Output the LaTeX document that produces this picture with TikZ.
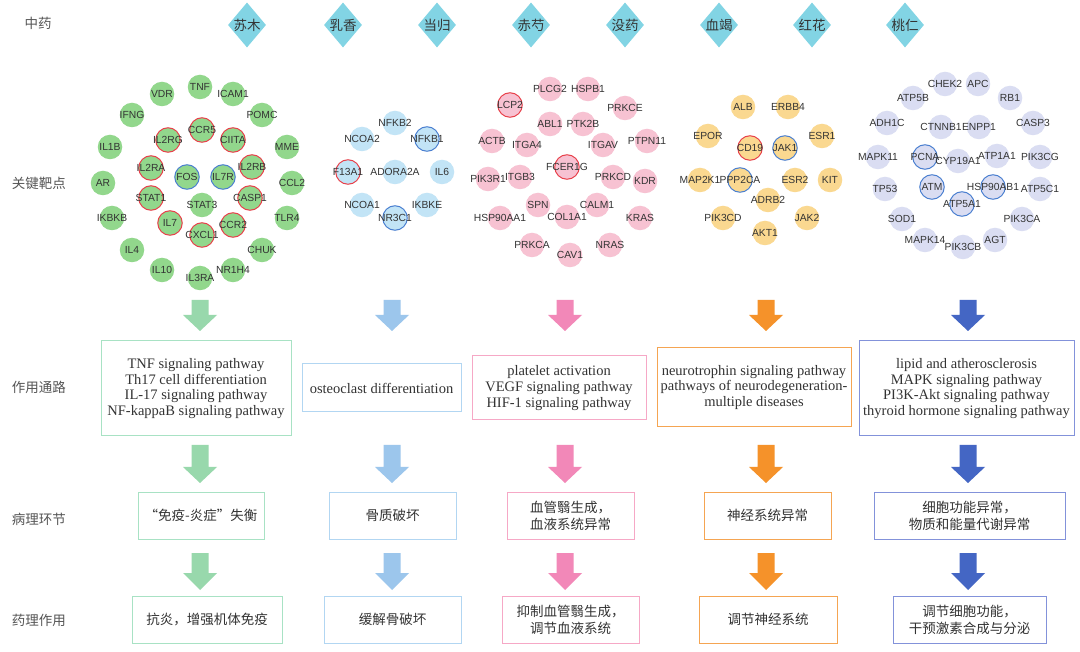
\documentclass[tikz,border=0pt]{standalone}
\usepackage{fontspec}
\setmainfont{Liberation Serif}
\setsansfont{Liberation Sans}
\newfontfamily\cjk{Noto Sans CJK SC}
\usetikzlibrary{shapes.geometric}
\definecolor{txt}{HTML}{333333}
\definecolor{lab}{HTML}{555555}
\definecolor{diacol}{HTML}{82D4E4}
\definecolor{fillA}{HTML}{92D78C}
\definecolor{fillB}{HTML}{C2E4F6}
\definecolor{fillC}{HTML}{F7C2D2}
\definecolor{fillD}{HTML}{FAD890}
\definecolor{fillE}{HTML}{DADDF2}
\definecolor{ringr}{HTML}{E8404A}
\definecolor{ringb}{HTML}{4A7FD0}
\definecolor{arrA}{HTML}{98D8AC}
\definecolor{arrB}{HTML}{9CC6EC}
\definecolor{arrC}{HTML}{F288B8}
\definecolor{arrD}{HTML}{F5922A}
\definecolor{arrE}{HTML}{4466C4}
\definecolor{boxA}{HTML}{A8E2C4}
\definecolor{boxB}{HTML}{B2D6F2}
\definecolor{boxC}{HTML}{F6A8C6}
\definecolor{boxD}{HTML}{F5A552}
\definecolor{boxE}{HTML}{8392DA}
\newcommand{\blockarr}[5]{%
  \fill[#5] (#1-8.5,#2) -- (#1+8.5,#2) -- (#1+8.5,#3) -- (#1+17,#3) -- (#1,#4)
    -- (#1-17,#3) -- (#1-8.5,#3) -- cycle;}
\def\clA{TNF/200/87/none, VDR/162/94/none, ICAM1/233/94/none, IFNG/132/115/none, POMC/262/115/none, CCR5/202/130/ringr, IL2RG/168/140/ringr, CIITA/233/140/ringr, IL1B/110/147/none, MME/287/147/none, IL2RA/151/168/ringr, IL2RB/252/167/ringr, FOS/187/177/ringb, IL7R/223/177/ringb, AR/103/183/none, CCL2/292/183/none, STAT1/151/198/ringr, STAT3/202/205/none, CASP1/250/198/ringr, IKBKB/112/218/none, TLR4/287/218/none, IL7/170/223/ringr, CCR2/233/225/ringr, CXCL1/202/235/ringr, IL4/132/250/none, CHUK/262/250/none, IL10/162/270/none, IL3RA/200/278/none, NR1H4/233/270/none}
\def\clB{NFKB2/395/123/none, NCOA2/362/139/none, NFKB1/427/139/ringb, F13A1/348/172/ringr, ADORA2A/395/172/none, IL6/442/172/none, NCOA1/362/205/none, IKBKE/427/205/none, NR3C1/395/218/ringb}
\def\clC{PLCG2/550/89/none, HSPB1/588/89/none, LCP2/510/105/ringr, PRKCE/625/108/none, ABL1/550/124/none, PTK2B/583/124/none, ACTB/492/141/none, ITGA4/527/145/none, ITGAV/603/145/none, PTPN11/647/141/none, FCER1G/567/167/ringr, PIK3R1/488/179/none, ITGB3/520/177/none, PRKCD/613/177/none, KDR/645/181/none, SPN/538/205/none, CALM1/597/205/none, HSP90AA1/500/218/none, COL1A1/567/217/none, KRAS/640/218/none, PRKCA/532/245/none, NRAS/610/245/none, CAV1/570/255/none}
\def\clD{ALB/743/107/none, ERBB4/788/107/none, EPOR/708/136/none, ESR1/822/136/none, CD19/750/148/ringr, JAK1/785/148/ringb, MAP2K1/700/180/none, PPP2CA/740/180/ringb, ESR2/795/180/none, KIT/830/180/none, ADRB2/768/200/none, PIK3CD/723/218/none, JAK2/807/218/none, AKT1/765/233/none}
\def\clE{CHEK2/945/84/none, APC/978/84/none, ATP5B/913/98/none, RB1/1010/98/none, ADH1C/887/123/none, CTNNB1/941/127/none, ENPP1/979/127/none, CASP3/1033/123/none, MAPK11/878/157/none, PCNA/925/157/ringb, CYP19A1/958/161/none, ATP1A1/997/156/none, PIK3CG/1040/157/none, TP53/885/189/none, ATM/932/187/ringb, HSP90AB1/993/187/ringb, ATP5C1/1040/189/none, ATP5A1/962/204/ringb, SOD1/902/219/none, PIK3CA/1022/219/none, MAPK14/925/240/none, PIK3CB/963/247/none, AGT/995/240/none}
\begin{document}
\begin{tikzpicture}[x=1pt,y=-1pt,
  gene/.style={circle, minimum size=24.5pt, inner sep=0pt, line width=1pt},
  glabel/.style={inner sep=0pt, text=txt, font=\sffamily\fontsize{10.3}{11}\selectfont},
  dia/.style={diamond, fill=diacol, minimum width=38pt, minimum height=45pt, inner sep=0pt},
  dlabel/.style={inner sep=0pt, text=txt, font=\cjk\fontsize{13.5}{14}\selectfont},
  rowlab/.style={inner sep=0pt, text=lab, font=\cjk\fontsize{13.5}{14}\selectfont},
  pbox/.style={rectangle, draw, line width=1pt, inner sep=0pt, align=center, text=txt,
    font=\fontsize{14.5}{15.8}\selectfont},
  cbox/.style={rectangle, draw, line width=1pt, inner sep=0pt, align=center, text=txt,
    font=\cjk\fontsize{13.5}{17}\selectfont}]
\useasboundingbox (0,0) rectangle (1080,652);
\fill[white] (0,0) rectangle (1080,652);
% row labels
\node[rowlab] (l0) at (38,23) {中药};
\node[rowlab] (l1) at (39,183) {关键靶点};
\node[rowlab] (l2) at (39,387) {作用通路};
\node[rowlab] (l3) at (39,519) {病理环节};
\node[rowlab] (l4) at (39,620) {药理作用};
% herbs
\foreach \n/\x/\t in {h1/247/苏木, h2/343/乳香, h3/437/当归, h4/531/赤芍, h5/625/没药, h6/719/血竭, h7/812/红花, h8/905/桃仁}{
  \node[dia] (\n) at (\x,25) {};
  \node[dlabel] at (\n) {\t};
}
% clusters: circles
\foreach \n/\x/\y/\r in \clA {\node[gene, fill=fillA, draw=\r] (\n) at (\x,\y) {};}
\foreach \n/\x/\y/\r in \clB {\node[gene, fill=fillB, draw=\r] (\n) at (\x,\y) {};}
\foreach \n/\x/\y/\r in \clC {\node[gene, fill=fillC, draw=\r] (\n) at (\x,\y) {};}
\foreach \n/\x/\y/\r in \clD {\node[gene, fill=fillD, draw=\r] (\n) at (\x,\y) {};}
\foreach \n/\x/\y/\r in \clE {\node[gene, fill=fillE, draw=\r] (\n) at (\x,\y) {};}
% clusters: labels
\foreach \n/\x/\y/\r in \clA {\node[glabel] at (\n) {\n};}
\foreach \n/\x/\y/\r in \clB {\node[glabel] at (\n) {\n};}
\foreach \n/\x/\y/\r in \clC {\node[glabel] at (\n) {\n};}
\foreach \n/\x/\y/\r in \clD {\node[glabel] at (\n) {\n};}
\foreach \n/\x/\y/\r in \clE {\node[glabel] at (\n) {\n};}
% arrows
\foreach \x/\c in {200/arrA, 392/arrB, 565/arrC, 766/arrD, 968/arrE}{
  \blockarr{\x}{300}{315}{331}{\c}
  \blockarr{\x}{445}{467}{483}{\c}
  \blockarr{\x}{553}{573}{590}{\c}
}
% pathway boxes
\node[pbox, draw=boxA, minimum width=190pt, minimum height=95pt] (pA) at (196,388.5)
  {TNF signaling pathway\\Th17 cell differentiation\\IL-17 signaling pathway\\NF-kappaB signaling pathway};
\node[pbox, draw=boxB, minimum width=159pt, minimum height=48pt] (pB) at (381.5,388)
  {osteoclast differentiation};
\node[pbox, draw=boxC, minimum width=174pt, minimum height=64pt] (pC) at (559,388)
  {platelet activation\\VEGF signaling pathway\\HIF-1 signaling pathway};
\node[pbox, draw=boxD, minimum width=194pt, minimum height=79pt] (pD) at (754,387.5)
  {neurotrophin signaling pathway\\pathways of neurodegeneration-\\multiple diseases};
\node[pbox, draw=boxE, minimum width=215pt, minimum height=95pt] (pE) at (966.5,388.5)
  {lipid and atherosclerosis\\MAPK signaling pathway\\PI3K-Akt signaling pathway\\thyroid hormone signaling pathway};
% pathology boxes
\node[cbox, draw=boxA, minimum width=126pt, minimum height=47pt] (qA) at (201,515.5) {“免疫-炎症”失衡};
\node[cbox, draw=boxB, minimum width=127pt, minimum height=47pt] (qB) at (392.5,515.5) {骨质破坏};
\node[cbox, draw=boxC, minimum width=127pt, minimum height=47pt] (qC) at (570.5,515.5) {血管翳生成，\\血液系统异常};
\node[cbox, draw=boxD, minimum width=127pt, minimum height=47pt] (qD) at (767.5,515.5) {神经系统异常};
\node[cbox, draw=boxE, minimum width=191pt, minimum height=47pt] (qE) at (969.5,515.5) {细胞功能异常，\\物质和能量代谢异常};
% pharmacology boxes
\node[cbox, draw=boxA, minimum width=150pt, minimum height=47pt] (rA) at (207,619.5) {抗炎，增强机体免疫};
\node[cbox, draw=boxB, minimum width=137pt, minimum height=47pt] (rB) at (392.5,619.5) {缓解骨破坏};
\node[cbox, draw=boxC, minimum width=137pt, minimum height=47pt] (rC) at (570.5,619.5) {抑制血管翳生成，\\调节血液系统};
\node[cbox, draw=boxD, minimum width=138pt, minimum height=47pt] (rD) at (768,619.5) {调节神经系统};
\node[cbox, draw=boxE, minimum width=153pt, minimum height=47pt] (rE) at (969.5,619.5) {调节细胞功能，\\干预激素合成与分泌};
\end{tikzpicture}
\end{document}
